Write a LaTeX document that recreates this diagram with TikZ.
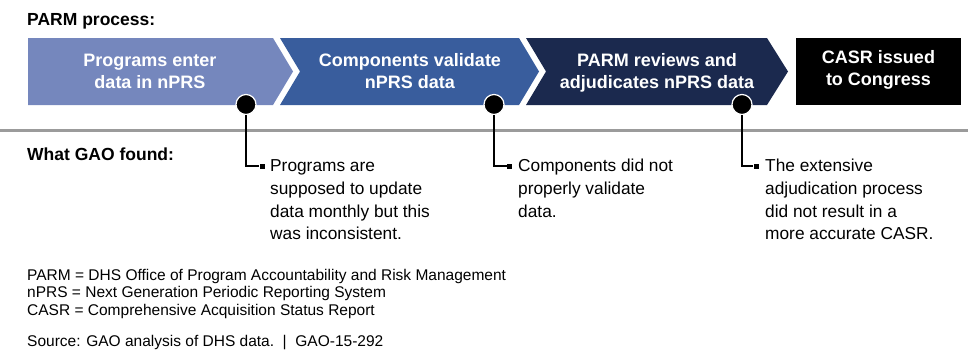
\documentclass[tikz,border=0pt]{standalone}
\usepackage{fontspec}
\setmainfont{Liberation Sans}
\definecolor{cone}{RGB}{117,135,189}
\definecolor{ctwo}{RGB}{57,93,157}
\definecolor{cthree}{RGB}{27,41,78}
\definecolor{rule}{RGB}{155,155,155}
\begin{document}
\begin{tikzpicture}[x=1pt,y=-1pt,
  steptext/.style={anchor=north, inner sep=0, align=center, text=white, font=\fontsize{18}{22}\selectfont\bfseries},
  dot/.style={circle, fill=black, draw=white, line width=1.2pt, minimum size=20pt, inner sep=0},
  bul/.style={rectangle, fill=black, minimum size=5pt, inner sep=0},
  conn/.style={draw=black, line width=1.1pt},
  finding/.style={anchor=north west, inner sep=0, align=left, font=\fontsize{17.3}{22.7}\selectfont},
  heading/.style={anchor=base west, inner sep=0, font=\fontsize{17.5}{20}\selectfont\bfseries},
  legend/.style={anchor=north west, inner sep=0, align=left, font=\fontsize{15.5}{17.5}\selectfont},
  source/.style={anchor=base west, inner sep=0, font=\fontsize{15.5}{17.5}\selectfont}]
\useasboundingbox (0,0) rectangle (977,351);

% process shapes
\fill[cone] (28,38) -- (273,38) -- (293,71.5) -- (273,105) -- (28,105) -- cycle;
\fill[ctwo] (280,38) -- (519,38) -- (539,71.5) -- (519,105) -- (280,105) -- (300,71.5) -- cycle;
\fill[cthree] (526,38) -- (767,38) -- (788,71.5) -- (767,105) -- (526,105) -- (546,71.5) -- cycle;
\fill[black] (796,38) rectangle (961,105);

\node[steptext] (t1) at (150,50.6) {\strut Programs enter\\data in nPRS};
\node[steptext] (t2) at (410,50.6) {\strut Components validate\\nPRS data};
\node[steptext] (t3) at (657,50.6) {\strut PARM reviews and\\adjudicates nPRS data};
\node[steptext] (t4) at (878.5,47.6) {\strut CASR issued\\to Congress};

% separator
\draw[rule, line width=2.5pt] (0,130.5) -- (968,130.5);

% headings
\node[heading] (h1) at (27,25) {PARM process:};
\node[heading] (h2) at (27,160) {What GAO found:};

% dots, bullets, connectors
\node[dot] (d1) at (246,104.5) {};
\node[dot] (d2) at (494,104.5) {};
\node[dot] (d3) at (742,104.5) {};
\node[bul] (b1) at (262,166) {};
\node[bul] (b2) at (509.5,166) {};
\node[bul] (b3) at (756,166) {};
\draw[conn] (d1.south) |- (b1.west);
\draw[conn] (d2.south) |- (b2.west);
\draw[conn] (d3.south) |- (b3.west);

% findings
\node[finding] (f1) at (270,155.6) {\strut Programs are\\supposed to update\\data monthly but this\\was inconsistent.};
\node[finding] (f2) at (518,155.6) {\strut Components did not\\properly validate\\data.};
\node[finding] (f3) at (765,155.6) {\strut The extensive\\adjudication process\\did not result in a\\more accurate CASR.};

% legend
\node[legend] (leg) at (27,267.75) {\strut PARM = DHS Office of Program Accountability and Risk Management\\nPRS = Next Generation Periodic Reporting System\\CASR = Comprehensive Acquisition Status Report};
\node[source] (src) at (27,346) {Source: GAO analysis of DHS data.~~|~~GAO-15-292};
\end{tikzpicture}
\end{document}
